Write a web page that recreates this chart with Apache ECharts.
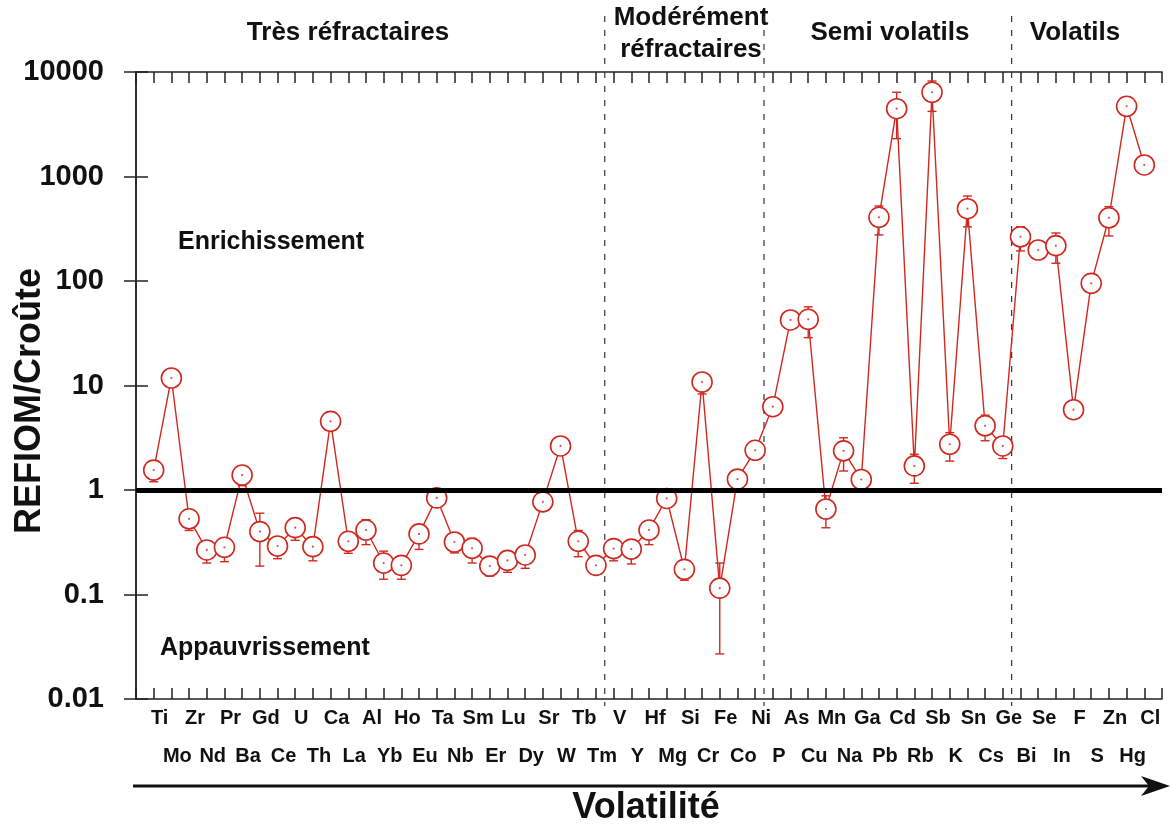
<!DOCTYPE html>
<html>
<head>
<meta charset="utf-8">
<title>REFIOM / Croûte</title>
<script src="https://cdn.jsdelivr.net/npm/echarts@6/dist/echarts.min.js"></script>
<style>
  html, body { margin: 0; padding: 0; background: #fff; }
  #chart { width: 1171px; height: 827px; }
</style>
</head>
<body>
<div id="chart"></div>
<script>
// Elements ordered by increasing volatility
const categories = ['Ti','Mo','Zr','Nd','Pr','Ba','Gd','Ce','U','Th','Ca','La','Al','Yb','Ho','Eu','Ta','Nb','Sm','Er','Lu','Dy','Sr','W','Tb','Tm',
  'V','Y','Hf','Mg','Si','Cr','Fe','Co','Ni',
  'P','As','Cu','Mn','Na','Ga','Pb','Cd','Rb','Sb','K','Sn','Cs','Ge',
  'Bi','Se','In','F','S','Zn','Hg','Cl'];

// Enrichment factor REFIOM / crust
const ratio = [1.55, 11.8, 0.53, 0.267, 0.283, 1.39, 0.40, 0.291, 0.436, 0.287, 4.54, 0.323, 0.414, 0.20, 0.19, 0.38, 0.84, 0.318, 0.277, 0.187, 0.212, 0.239, 0.77, 2.64, 0.323, 0.19,
  0.275, 0.272, 0.414, 0.83, 0.174, 10.8, 0.115, 1.27, 2.4,
  6.27, 42.4, 43, 0.658, 2.37, 1.26, 407, 4455, 1.70, 6400, 2.74, 492, 4.12, 2.64,
  265, 198, 218, 5.87, 95, 403, 4700, 1290];

// Error bar bounds (null = not visible outside the marker)
const errLow = [1.2, null, 0.41, 0.2, 0.206, 1.1, 0.187, 0.22, 0.33, 0.21, null, 0.248, 0.30, 0.14, 0.14, 0.27, null, 0.25, 0.2, 0.15, 0.163, 0.178, null, null, 0.23, null,
  0.21, 0.196, 0.30, null, 0.137, 8.3, 0.027, null, null,
  null, null, 28.7, 0.435, 1.52, null, 276, 2300, 1.16, 4200, 1.89, 330, 2.96, 2.0,
  194, null, 148, null, null, 270, null, null];
const errHigh = [null, null, null, null, null, null, 0.6, null, null, null, null, null, 0.52, 0.26, null, null, null, null, 0.345, null, null, null, null, null, 0.41, null,
  null, null, null, null, null, null, 0.2, null, null,
  null, null, 56.6, 0.88, 3.16, null, 522, 6400, 2.2, 8200, 3.54, 650, 5.2, null,
  331, null, 288, null, null, 514, null, null];

// Volatility classes: a dashed separator follows the last element of each class
const classEnds = ['Tm', 'Ni', 'Ge'];
const classNames = ['Très réfractaires', 'Modérément\nréfractaires', 'Semi volatils', 'Volatils'];

const yTicks = [0.01, 0.1, 1, 10, 100, 1000, 10000];

const RED = '#d0281f';
const FONT = "'Liberation Sans', Arial, Helvetica, sans-serif";

const lineData = ratio.map((v, i) => [i + 1, v]);
const errData = [];
ratio.forEach((v, i) => {
  if (errLow[i] == null && errHigh[i] == null) return;
  errData.push([i + 1, errLow[i] == null ? v : errLow[i], errHigh[i] == null ? v : errHigh[i], v]);
});
const sepData = classEnds.map(n => [categories.indexOf(n) + 1.5]);

const chart = echarts.init(document.getElementById('chart'), null, { renderer: 'canvas' });

const axisLineStyle = { color: '#222', width: 1.5 };

const xBase = {
  type: 'value', min: 0, max: categories.length + 1, interval: 1,
  axisLine: { show: true, onZero: false, lineStyle: axisLineStyle },
  axisTick: { show: true, inside: true, length: 11, lineStyle: axisLineStyle },
  splitLine: { show: false }
};
const yBase = {
  type: 'log', logBase: 10, min: yTicks[0], max: yTicks[yTicks.length - 1],
  axisLine: { show: true, lineStyle: axisLineStyle },
  axisTick: { show: true, inside: true, length: 12, lineStyle: axisLineStyle },
  minorTick: { show: false },
  splitLine: { show: false }
};

const option = {
  backgroundColor: '#fff',
  animation: false,
  grid: { left: 136, right: 3, top: 72, bottom: 128 },
  xAxis: [
    Object.assign({}, xBase, {
      position: 'bottom',
      axisLabel: {
        show: true,
        margin: 0,
        fontSize: 20,
        lineHeight: 38,
        fontWeight: 'bold',
        fontFamily: FONT,
        color: '#111',
        padding: [0, 0, 0, 12],
        formatter: v => {
          const i = Math.round(v);
          if (i < 1 || i > categories.length) return '';
          const name = categories[i - 1];
          return i % 2 === 1 ? name : '\n' + name;
        }
      }
    }),
    Object.assign({}, xBase, { position: 'top', axisLabel: { show: false } })
  ],
  yAxis: [
    Object.assign({}, yBase, {
      position: 'left',
      axisLabel: {
        margin: 32,
        fontSize: 29,
        fontWeight: 'bold',
        fontFamily: FONT,
        color: '#111',
        formatter: v => (v >= 1 ? String(Math.round(v)) : String(+v.toFixed(2)))
      }
    }),
    Object.assign({}, yBase, { position: 'right', axisLabel: { show: false } })
  ],
  series: [
    {
      // class separators, running past the frame into the header and tick areas
      type: 'custom',
      z: 1,
      silent: true,
      data: sepData,
      renderItem: (params, api) => {
        const x = api.value(0);
        const top = api.coord([x, yTicks[yTicks.length - 1]]);
        const bot = api.coord([x, yTicks[0]]);
        return {
          type: 'line',
          shape: { x1: top[0], y1: 16, x2: bot[0], y2: bot[1] + 7 },
          style: { stroke: '#333', lineWidth: 1.2, lineDash: [6, 8] }
        };
      }
    },
    {
      // error bars
      type: 'custom',
      z: 2,
      silent: true,
      data: errData,
      renderItem: (params, api) => {
        const x = api.value(0);
        const lo = api.coord([x, api.value(1)]);
        const hi = api.coord([x, api.value(2)]);
        const mid = api.coord([x, api.value(3)]);
        const w = 4.5;
        const style = { stroke: RED, lineWidth: 1.4 };
        const children = [{ type: 'line', shape: { x1: lo[0], y1: lo[1], x2: hi[0], y2: hi[1] }, style }];
        if (Math.abs(lo[1] - mid[1]) > 0.5) children.push({ type: 'line', shape: { x1: lo[0] - w, y1: lo[1], x2: lo[0] + w, y2: lo[1] }, style });
        if (Math.abs(hi[1] - mid[1]) > 0.5) children.push({ type: 'line', shape: { x1: hi[0] - w, y1: hi[1], x2: hi[0] + w, y2: hi[1] }, style });
        return { type: 'group', children };
      }
    },
    {
      type: 'line',
      z: 3,
      data: lineData,
      symbol: 'circle',
      symbolSize: 20,
      showAllSymbol: true,
      lineStyle: { color: RED, width: 1.4 },
      itemStyle: { color: '#fff', borderColor: RED, borderWidth: 1.6 },
      silent: true
    },
    {
      type: 'scatter',
      z: 4,
      data: lineData,
      symbol: 'circle',
      symbolSize: 2.2,
      itemStyle: { color: RED },
      silent: true,
      markLine: {
        silent: true,
        symbol: 'none',
        label: { show: false },
        lineStyle: { color: '#000', width: 5, type: 'solid' },
        data: [{ yAxis: 1 }]
      }
    }
  ],
  graphic: [
    { type: 'text', x: 348, y: 32.5, style: { text: classNames[0], font: `bold 26px ${FONT}`, fill: '#111', textAlign: 'center', textVerticalAlign: 'middle' } },
    { type: 'text', x: 691, y: 33.5, style: { text: classNames[1], font: `bold 26px ${FONT}`, lineHeight: 32, fill: '#111', textAlign: 'center', textVerticalAlign: 'middle' } },
    { type: 'text', x: 890, y: 33, style: { text: classNames[2], font: `bold 26px ${FONT}`, fill: '#111', textAlign: 'center', textVerticalAlign: 'middle' } },
    { type: 'text', x: 1075, y: 33, style: { text: classNames[3], font: `bold 26px ${FONT}`, fill: '#111', textAlign: 'center', textVerticalAlign: 'middle' } },
    { type: 'text', x: 178, y: 242, style: { text: 'Enrichissement', font: `bold 25px ${FONT}`, fill: '#111', textAlign: 'left', textVerticalAlign: 'middle' } },
    { type: 'text', x: 160, y: 648, style: { text: 'Appauvrissement', font: `bold 25px ${FONT}`, fill: '#111', textAlign: 'left', textVerticalAlign: 'middle' } },
    { type: 'text', x: 30, y: 401, rotation: Math.PI / 2, style: { text: 'REFIOM/Croûte', font: `bold 36px ${FONT}`, fill: '#111', textAlign: 'center', textVerticalAlign: 'middle' } },
    { type: 'text', x: 646, y: 808, style: { text: 'Volatilité', font: `bold 36px ${FONT}`, fill: '#111', textAlign: 'center', textVerticalAlign: 'middle' } },
    { type: 'line', shape: { x1: 133, y1: 786, x2: 1150, y2: 786 }, style: { stroke: '#111', lineWidth: 3 } },
    { type: 'polygon', shape: { points: [[1141, 776], [1170, 786], [1141, 796], [1149, 786]] }, style: { fill: '#111' } }
  ]
};

chart.setOption(option);
</script>
</body>
</html>
